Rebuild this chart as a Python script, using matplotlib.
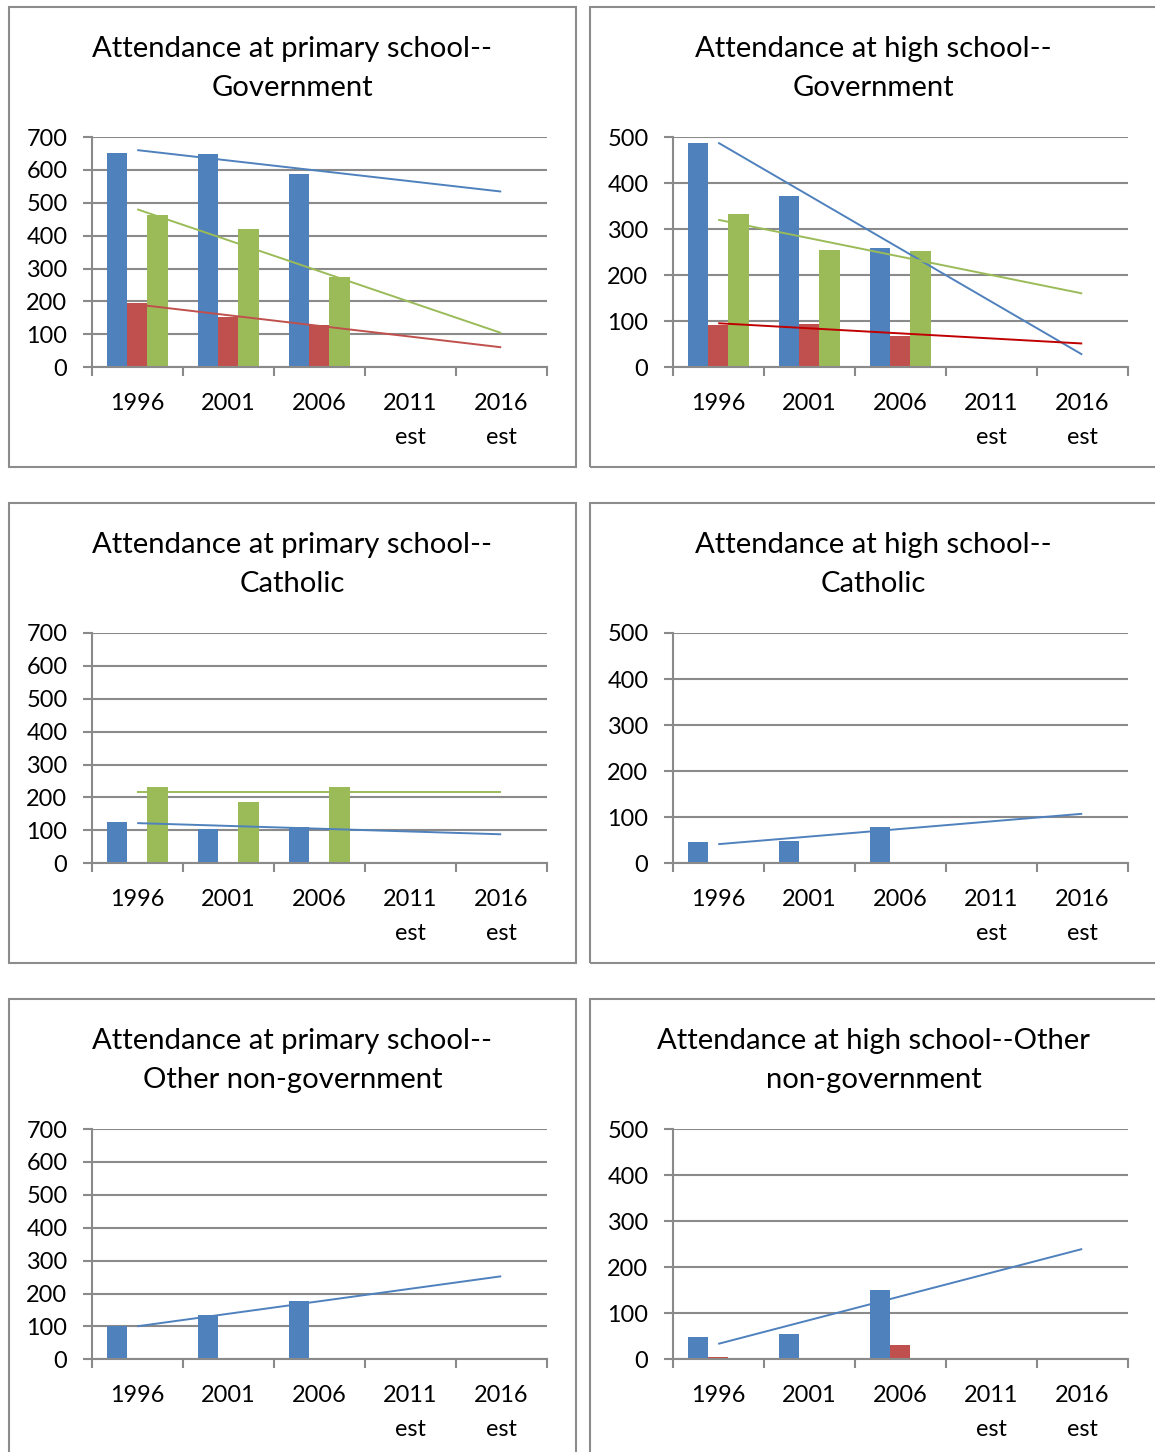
import numpy as np
import matplotlib
matplotlib.use("Agg")
import matplotlib.pyplot as plt
from matplotlib.patches import Rectangle

plt.rcParams['font.family'] = ['Lato', 'DejaVu Sans']

# ---- data -------------------------------------------------------------
years = ["1996", "2001", "2006", "2011\nest", "2016\nest"]
# only the first three census years have values; the estimate years are blank

titles = [
    ("Attendance at primary school--", "Government"),
    ("Attendance at high school--", "Government"),
    ("Attendance at primary school--", "Catholic"),
    ("Attendance at high school--", "Catholic"),
    ("Attendance at primary school--", "Other non-government"),
    ("Attendance at high school--Other", "non-government"),
]

prim_gov_blue = [651, 647, 588]
prim_gov_red = [194, 152, 129]
prim_gov_green = [463, 421, 275]

high_gov_blue = [488, 372, 258]
high_gov_red = [91, 94, 69]
high_gov_green = [333, 255, 253]

prim_cath_blue = [127, 104, 110]
prim_cath_red = [0, 0, 0]
prim_cath_green = [231, 187, 231]

high_cath_blue = [46, 49, 79]
high_cath_red = [0, 0, 0]
high_cath_green = [2, 2, 2]

prim_other_blue = [102, 135, 178]
prim_other_red = [1, 1, 1]
prim_other_green = [1, 1, 4]

high_other_blue = [48, 56, 151]
high_other_red = [4, 0, 30]
high_other_green = [1, 1, 1]

y_max = [700, 500, 700, 500, 700, 500]

# which series carry a linear trendline in each chart (blue, red, green)
trend_flags = [
    (True, True, True),
    (True, True, True),
    (True, False, True),
    (True, False, False),
    (True, False, False),
    (True, False, False),
]

# ---- styling ----------------------------------------------------------
BLUE = "#4F81BD"
RED = "#C0504D"
GREEN = "#9BBB59"
GRID = "#8A8A8A"
BORDER = "#8C8C8C"
trend_colors = [
    (BLUE, RED, GREEN),
    (BLUE, "#C00000", GREEN),
    (BLUE, RED, GREEN),
    (BLUE, RED, GREEN),
    (BLUE, RED, GREEN),
    (BLUE, RED, GREEN),
]

series = [
    (prim_gov_blue, prim_gov_red, prim_gov_green),
    (high_gov_blue, high_gov_red, high_gov_green),
    (prim_cath_blue, prim_cath_red, prim_cath_green),
    (high_cath_blue, high_cath_red, high_cath_green),
    (prim_other_blue, prim_other_red, prim_other_green),
    (high_other_blue, high_other_red, high_other_green),
]

W, H = 1155, 1452
fig = plt.figure(figsize=(W / 100, H / 100), dpi=100)
fig.patch.set_facecolor("white")

PANEL_W, PANEL_H = 567, 460
DX, DY = 581, 496

bar_w = 1 / 4.5
offsets = [-bar_w, 0.0, bar_w]
colors = [BLUE, RED, GREEN]

for k in range(6):
    r, c = divmod(k, 2)
    px0 = 9 + DX * c
    py0 = 7 + DY * r

    # chart frame
    fig.patches.append(Rectangle((px0 / W, 1 - (py0 + PANEL_H) / H),
                                 PANEL_W / W, PANEL_H / H,
                                 transform=fig.transFigure, fill=False,
                                 ec=BORDER, lw=1.5, zorder=0))

    # two-line title
    cx = (px0 + PANEL_W / 2) / W
    fig.text(cx, 1 - (py0 + 50) / H, titles[k][0], ha="center",
             va="baseline", fontsize=21.1, color="black")
    fig.text(cx, 1 - (py0 + 89) / H, titles[k][1], ha="center",
             va="baseline", fontsize=21.1, color="black")

    # plot area
    ax_l = 91.7 + DX * c
    ax_t = 137 + DY * r
    ax_w, ax_h = 455, 230.3
    ax = fig.add_axes([ax_l / W, 1 - (ax_t + ax_h) / H, ax_w / W, ax_h / H])

    ax.set_xlim(0, 5)
    ax.set_ylim(0, y_max[k])
    ax.set_yticks(np.arange(0, y_max[k] + 1, 100))
    ax.yaxis.grid(True, color=GRID, lw=1.5)
    ax.set_axisbelow(True)
    for side in ("top", "right"):
        ax.spines[side].set_visible(False)
    for side in ("left", "bottom"):
        ax.spines[side].set_color(GRID)
        ax.spines[side].set_linewidth(1.5)

    ax.set_xticks(np.arange(6))
    ax.set_xticklabels([])
    ax.set_xticks(np.arange(5) + 0.5, minor=True)
    ax.set_xticklabels(years, minor=True, linespacing=1.75)
    ax.tick_params(axis="x", which="major", length=6.5, width=1.5,
                   color=GRID, direction="out")
    ax.tick_params(axis="x", which="minor", length=0, pad=18.5,
                   labelsize=16.9)
    ax.tick_params(axis="y", length=6.5, width=1.5, color=GRID,
                   direction="out", pad=11, labelsize=16.9)

    x_data = np.arange(3)
    for j, vals in enumerate(series[k]):
        ax.bar(x_data + 0.5 + offsets[j], vals, width=bar_w,
               color=colors[j], lw=0, zorder=2)

    # linear trendlines fitted on the observed years, extended to 2016
    for j, vals in enumerate(series[k]):
        if not trend_flags[k][j]:
            continue
        slope, icpt = np.polyfit(x_data, vals, 1)
        xs = np.array([0, 4])
        ax.plot(xs + 0.5, slope * xs + icpt, color=trend_colors[k][j],
                lw=1.4, zorder=3, solid_capstyle="butt")

fig.savefig("out.png", dpi=100, facecolor="white")
